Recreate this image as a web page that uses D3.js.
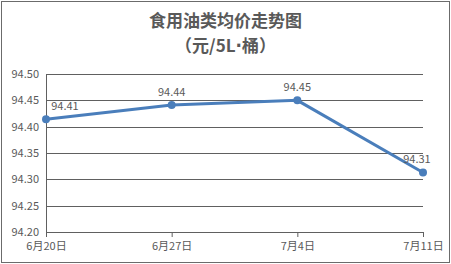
<!DOCTYPE html>
<html>
<head>
<meta charset="utf-8">
<script src="https://cdn.jsdelivr.net/npm/d3@7"></script>
<style>
  body { margin: 0; background: #fff; }
  text { font-family: "Noto Sans CJK SC", "Noto Sans", sans-serif; fill: #595959; }
</style>
</head>
<body>
<div id="chart"></div>
<script>
var dates = ["6月20日", "6月27日", "7月4日", "7月11日"];
var prices = [94.414, 94.441, 94.45, 94.313];
var priceLabels = ["94.41", "94.44", "94.45", "94.31"];
var yTicks = [94.20, 94.25, 94.30, 94.35, 94.40, 94.45, 94.50];

var svgwidth = 451, svgheight = 264;
var margin = {top: 74, right: 28, bottom: 32, left: 46},
    width = svgwidth - margin.left - margin.right,
    height = svgheight - margin.top - margin.bottom;

var svg = d3.select("#chart").append("svg")
    .attr("width", svgwidth)
    .attr("height", svgheight);

// outer frame
svg.append("rect")
    .attr("x", 1.5).attr("y", 1.5)
    .attr("width", svgwidth - 3).attr("height", svgheight - 3)
    .style("fill", "#fff").style("stroke", "#6b6b6b").style("stroke-width", 1);

svg.append("text")
    .attr("x", svgwidth / 2).attr("y", 27)
    .style("text-anchor", "middle").style("font-size", "17px").style("font-weight", "bold")
    .text("食用油类均价走势图");
var sub = svg.append("text")
    .attr("x", svgwidth / 2).attr("y", 52)
    .style("text-anchor", "middle").style("font-size", "17px").style("font-weight", "bold");
sub.append("tspan").text("（元/5L");
sub.append("tspan").style("font-family", "'DejaVu Sans'").text("·");
sub.append("tspan").text("桶）");

var g = svg.append("g")
    .attr("transform", "translate(" + margin.left + "," + margin.top + ")");

var x = d3.scalePoint().domain(dates).range([0, width]).padding(0);
var y = d3.scaleLinear().domain([94.20, 94.50]).range([height, 0]);

// gridlines
g.selectAll(".grid")
    .data(yTicks.slice(1))
  .enter().append("line")
    .attr("x1", 0).attr("x2", width)
    .attr("y1", d => Math.round(y(d)) + 0.5).attr("y2", d => Math.round(y(d)) + 0.5)
    .style("stroke", "#606060").style("stroke-width", 1);

var yAxis = d3.axisLeft(y).tickValues(yTicks).tickFormat(d3.format(".2f")).tickSize(0).tickPadding(7);
var yg = g.append("g").attr("class", "y axis").call(yAxis);
yg.select(".domain").attr("stroke", "#606060");
yg.selectAll("text").style("font-size", "11px").style("fill", "#595959");

var xAxis = d3.axisBottom(x).tickSize(5).tickPadding(5);
var xg = g.append("g").attr("class", "x axis")
    .attr("transform", "translate(0," + height + ")")
    .call(xAxis);
xg.select(".domain").attr("stroke", "#606060").attr("d", "M0.5,0.5H" + (width + 0.5));
xg.selectAll("line").attr("stroke", "#606060");
xg.selectAll("text").style("font-size", "11px").style("fill", "#595959");

var line = d3.line()
    .x((d, i) => x(dates[i]))
    .y(d => y(d));

g.append("path")
    .datum(prices)
    .attr("d", line)
    .style("fill", "none")
    .style("stroke", "#4a7ebb")
    .style("stroke-width", 3);

g.selectAll(".dot")
    .data(prices)
  .enter().append("circle")
    .attr("cx", (d, i) => x(dates[i]))
    .attr("cy", d => y(d))
    .attr("r", 4)
    .style("fill", "#4a7ebb");

var labelDx = [19, 0, 0, -6];
g.selectAll(".lbl")
    .data(prices)
  .enter().append("text")
    .attr("x", (d, i) => x(dates[i]) + labelDx[i])
    .attr("y", d => y(d) - 9)
    .style("text-anchor", "middle")
    .style("font-size", "11px")
    .text((d, i) => priceLabels[i]);
</script>
</body>
</html>
